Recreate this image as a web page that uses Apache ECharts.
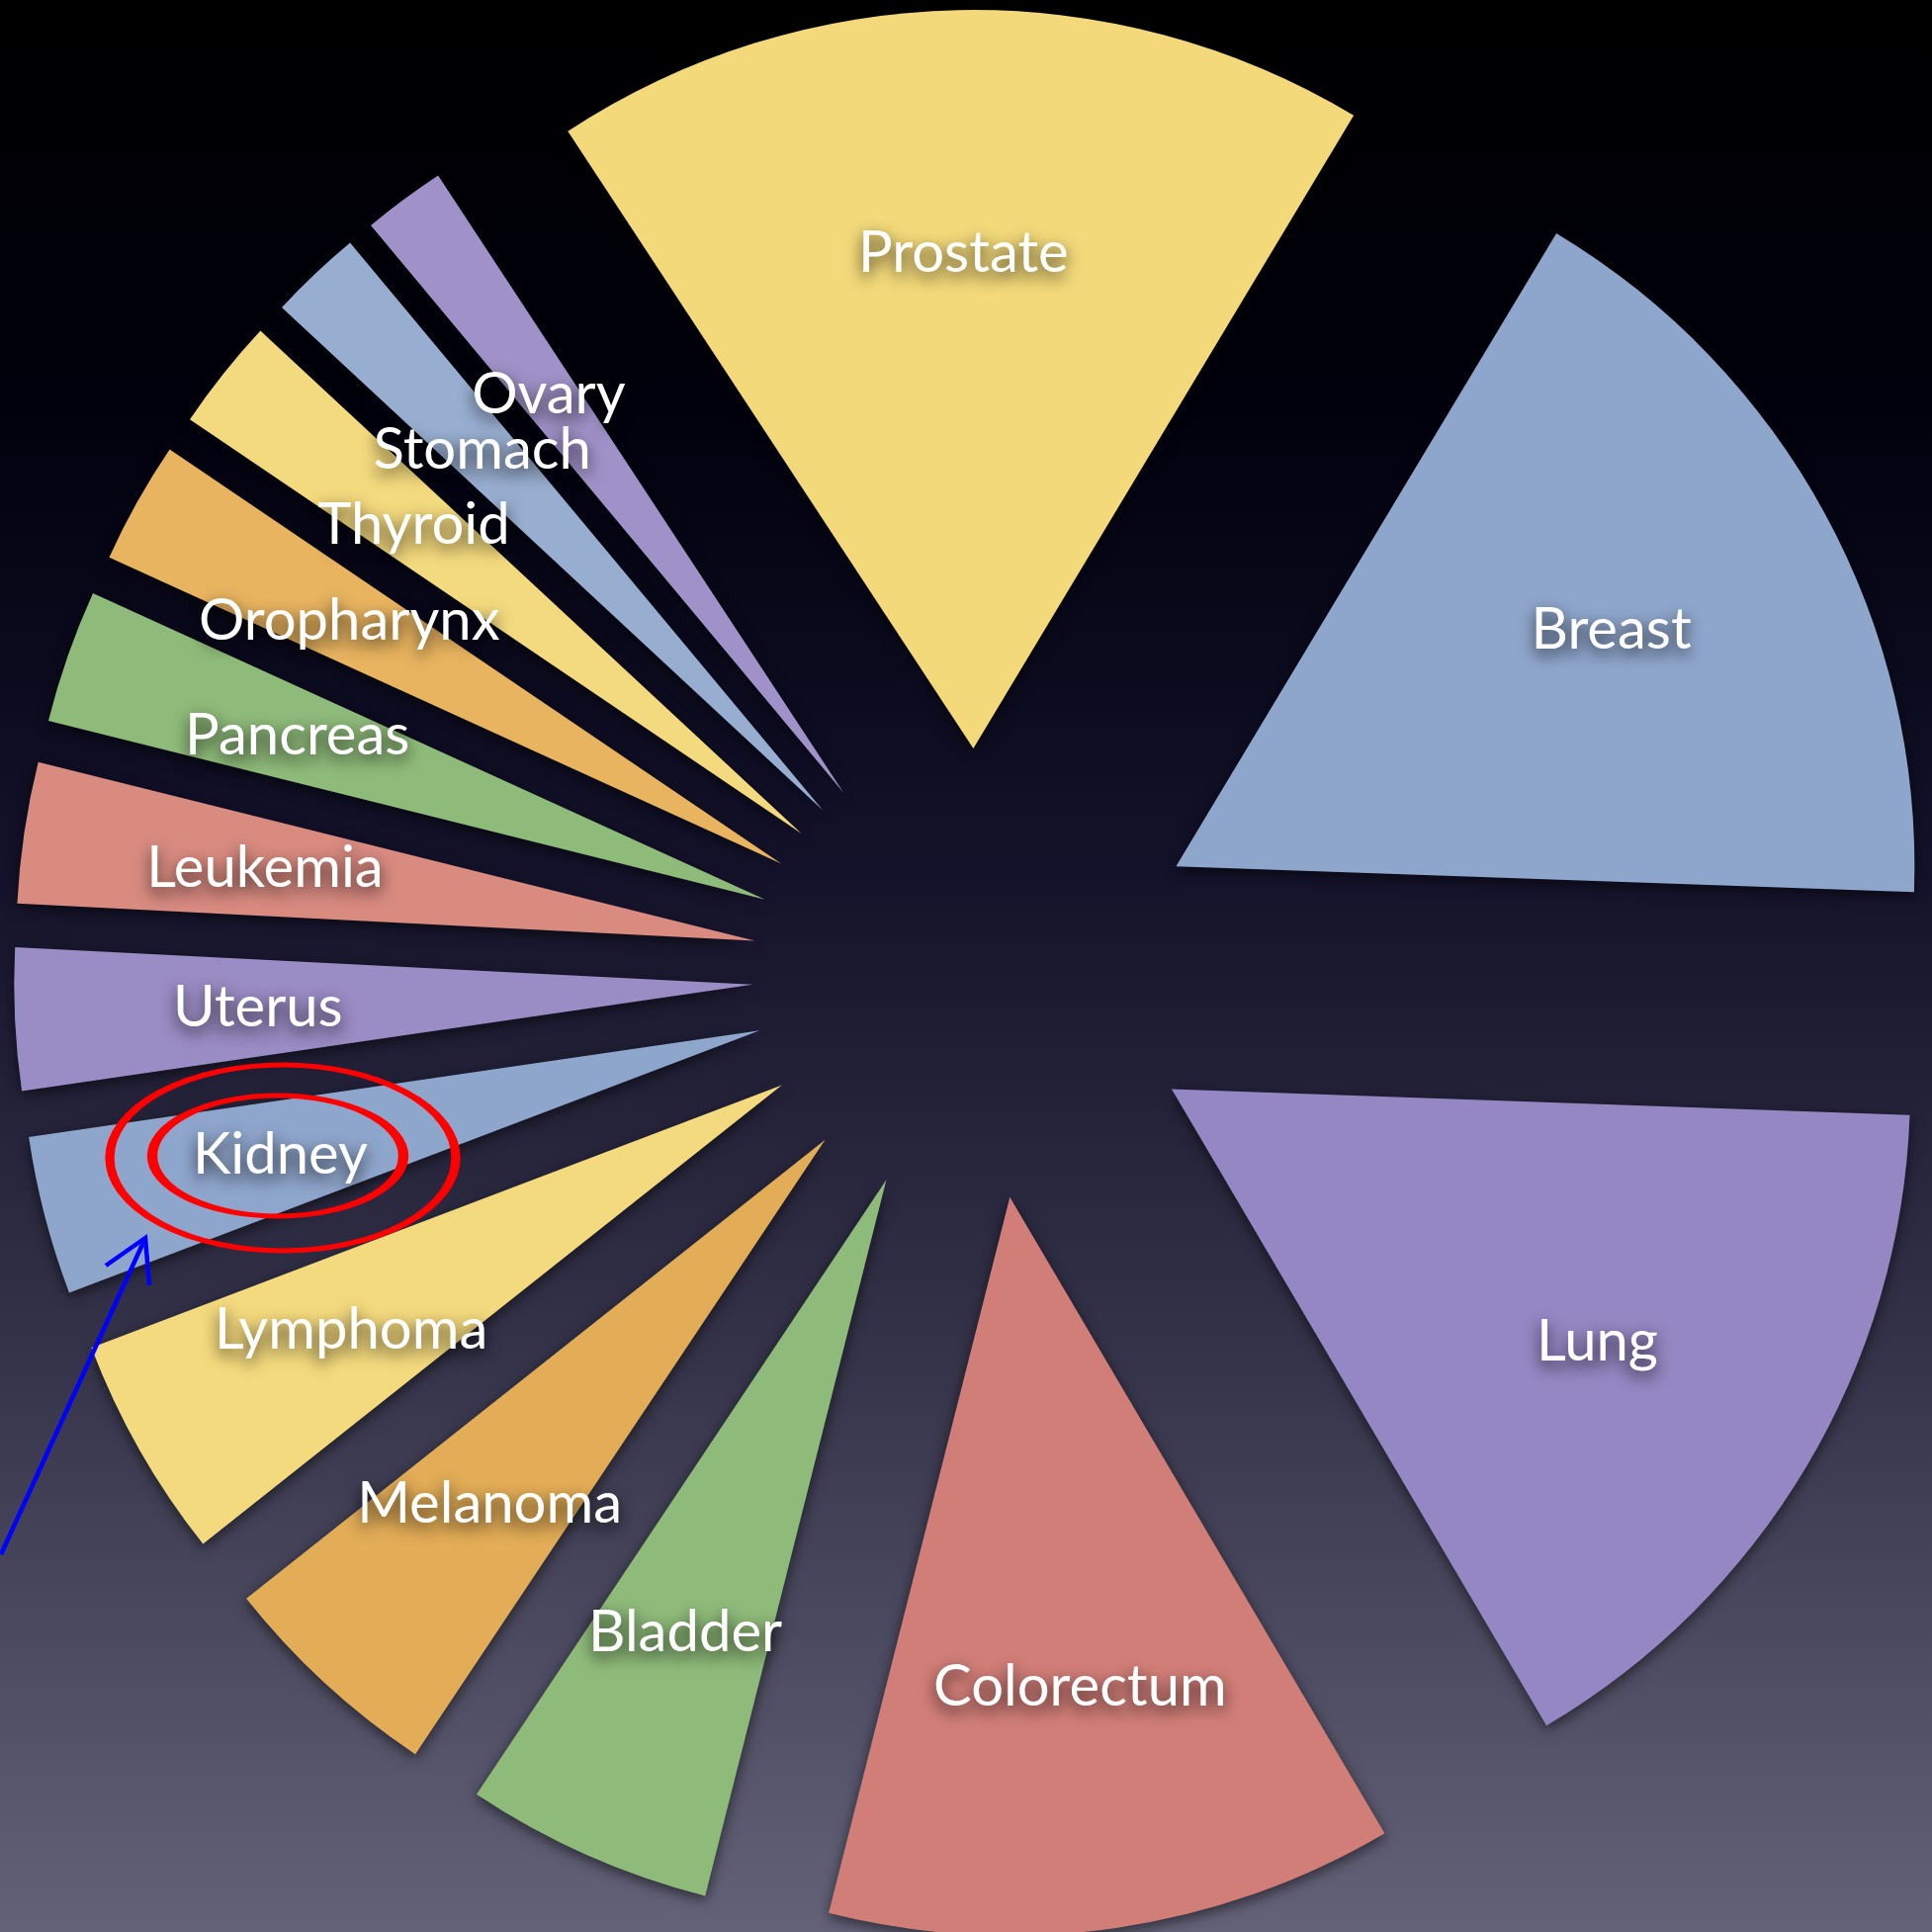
<!DOCTYPE html>
<html>
<head>
<meta charset="utf-8">
<script src="https://cdn.jsdelivr.net/npm/echarts@6/dist/echarts.min.js"></script>
<style>
  html, body { margin: 0; padding: 0; background: #000; }
  #chart { width: 1954px; height: 1954px; }
</style>
</head>
<body>
<div id="chart"></div>
<script>
// Cancer sites, in clockwise order starting at the top (Prostate)
const categories = ['Prostate', 'Breast', 'Lung', 'Colorectum', 'Bladder', 'Melanoma', 'Lymphoma',
  'Kidney', 'Uterus', 'Leukemia', 'Pancreas', 'Oropharynx', 'Thyroid', 'Stomach', 'Ovary'];
// Relative sizes
const values = [64.3, 61.0, 57.5, 44.7, 19.5, 17.9, 17.6, 12.5, 11.2, 11.1, 10.5, 9.6, 8.8, 7.3, 6.5];
const colors = ['#f3d97a', '#8fa6cc', '#9487c3', '#d27e78', '#8fbb7a', '#e3ad57', '#f4da7e',
  '#8fa6cc', '#9a8cc4', '#d98b80', '#8fbb7a', '#e8b460', '#f4da7e', '#98aed0', '#a092c8'];

const chart = echarts.init(document.getElementById('chart'));

const center = [989, 985];
const R = 747;
const OFFSET = 228;

const sliceData = categories.map((name, i) => ({
  name, value: values[i], selected: true,
  itemStyle: { color: colors[i] }
}));
const labelData = categories.map((name, i) => ({
  name, value: values[i], selected: true
}));

chart.setOption({
  animation: false,
  backgroundColor: {
    type: 'linear', x: 0, y: 0, x2: 0, y2: 1,
    colorStops: [
      { offset: 0, color: '#000000' },
      { offset: 0.2, color: '#00000c' },
      { offset: 0.45, color: '#13122a' },
      { offset: 0.7, color: '#343349' },
      { offset: 1, color: '#636278' }
    ]
  },
  series: [
    {
      type: 'pie',
      silent: true,
      center: center,
      radius: [0, R],
      startAngle: 123.3,
      clockwise: true,
      selectedMode: 'multiple',
      selectedOffset: OFFSET,
      avoidLabelOverlap: false,
      label: { show: false },
      labelLine: { show: false },
      itemStyle: {
        borderWidth: 0,
        shadowBlur: 14,
        shadowColor: 'rgba(0,0,0,0.55)',
        shadowOffsetY: 4
      },
      select: { itemStyle: { borderWidth: 0 } },
      data: sliceData
    },
    {
      type: 'pie',
      silent: true,
      center: center,
      radius: [249, R],
      startAngle: 123.3,
      clockwise: true,
      selectedMode: 'multiple',
      selectedOffset: OFFSET,
      avoidLabelOverlap: false,
      minShowLabelAngle: 0,
      labelLayout: { hideOverlap: false },
      itemStyle: { color: 'rgba(0,0,0,0)', borderWidth: 0 },
      labelLine: { show: false },
      label: {
        show: true,
        position: 'inside',
        formatter: '{b}',
        color: '#ffffff',
        fontFamily: 'Lato, "Open Sans", sans-serif',
        fontSize: 58,
        overflow: 'none',
        textShadowColor: 'rgba(0,0,0,0.8)',
        textShadowBlur: 16,
        textShadowOffsetY: 6,
        textBorderWidth: 0
      },
      select: { label: { color: '#ffffff' }, itemStyle: { color: 'rgba(0,0,0,0)' } },
      data: labelData
    }
  ],
  graphic: [
    {
      type: 'circle', x: 286, y: 1171, scaleX: 175 / 94, scaleY: 1,
      shape: { cx: 0, cy: 0, r: 94 },
      style: { fill: 'none', stroke: '#ff0000', lineWidth: 5, strokeNoScale: true },
      z: 100
    },
    {
      type: 'circle', x: 281, y: 1169, scaleX: 127 / 61, scaleY: 1,
      shape: { cx: 0, cy: 0, r: 61 },
      style: { fill: 'none', stroke: '#ff0000', lineWidth: 5, strokeNoScale: true },
      z: 100
    },
    {
      type: 'polyline',
      shape: { points: [[1, 1572], [147, 1252]] },
      style: { stroke: '#0000ff', lineWidth: 4.5, fill: 'none' },
      z: 100
    },
    {
      type: 'polyline',
      shape: { points: [[107, 1280], [147, 1252], [151, 1300]] },
      style: { stroke: '#0000ff', lineWidth: 4.5, fill: 'none' },
      z: 100
    }
  ]
});
</script>
</body>
</html>
